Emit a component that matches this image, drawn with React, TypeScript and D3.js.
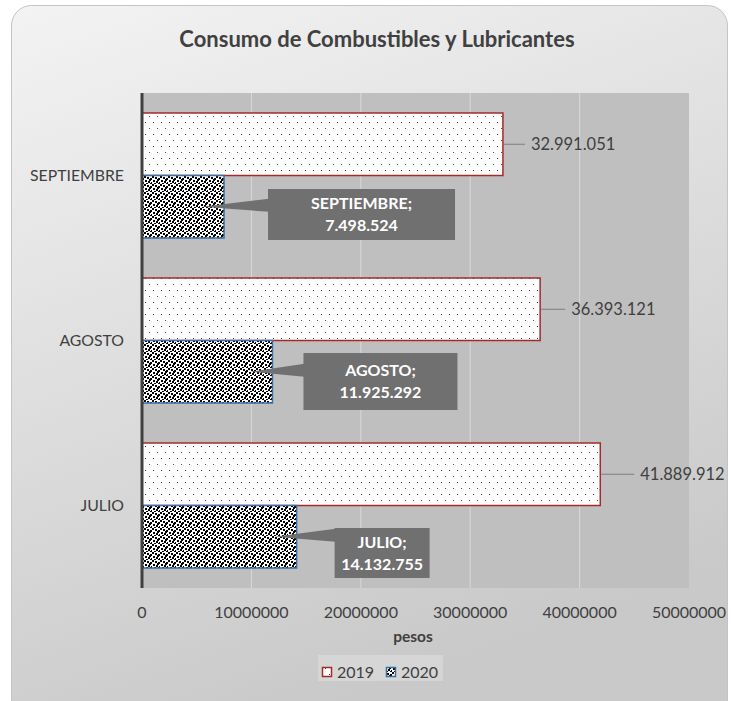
import * as d3 from "d3";

const categories = ["SEPTIEMBRE", "AGOSTO", "JULIO"];
const series = ["2019", "2020"];
const values2019 = [32991051, 36393121, 41889912];
const values2020 = [7498524, 11925292, 14132755];
const xTicks = [0, 10000000, 20000000, 30000000, 40000000, 50000000];

// label layout (hand placed in the original, like Excel does)
const leaderOffsets = [28, 31, 40];
const calloutBoxes = [
  { dx: 44, w: 187, top: 189, h: 51 },
  { dx: 31, w: 154, top: 353, h: 57 },
  { dx: 38, w: 95, top: 528, h: 50 },
];

const W = 731;
const H = 701;
const plot = { left: 142, right: 689, top: 93, bottom: 588 };
const FONT = "Lato, 'Open Sans', sans-serif";
const TEXT = "#404040";

const fmt = (v: number) => d3.format(",")(v).replace(/,/g, ".");

export default function App() {
  const x = d3.scaleLinear().domain([0, 50000000]).range([plot.left, plot.right]);
  const y0 = d3.scaleBand<string>().domain(categories).range([plot.top, plot.bottom]);
  const y1 = d3
    .scaleBand<string>()
    .domain(series)
    .range([0, y0.bandwidth()])
    .paddingInner(0)
    .paddingOuter(0.32);

  // 2020 confetti squares within an 8x8 tile
  const confetti = [
    [0, 0], [3, 1], [6, 2], [1, 4], [4, 5], [7, 6], [5, 3], [2, 7], [6, 7],
  ];

  return (
    <svg
      width={W}
      height={H}
      style={{ position: "absolute", left: 0, top: 0 }}
      fontFamily={FONT}
    >
      <defs>
        <linearGradient id="bg" x1="0" y1="0" x2="0.35" y2="1">
          <stop offset="0" stopColor="#f3f3f3" />
          <stop offset="1" stopColor="#c9c9c9" />
        </linearGradient>
        <pattern id="p2019" width="8" height="12" patternUnits="userSpaceOnUse">
          <rect width="8" height="12" fill="#fff" />
          <rect x="1" y="2" width="1" height="1" fill="#333" />
          <rect x="5" y="8" width="1" height="1" fill="#555" />
        </pattern>
        <pattern id="p2020" width="8" height="8" patternUnits="userSpaceOnUse">
          <rect width="8" height="8" fill="#fff" />
          {confetti.map(([cx, cy], i) => (
            <rect key={i} x={cx} y={cy} width="2" height="2" fill="#000" />
          ))}
        </pattern>
      </defs>

      <rect x={11.5} y={5.5} width={716} height={720} rx={20} fill="url(#bg)" stroke="#c4c4c4" />

      <text x={377} y={39} dy="0.35em" textAnchor="middle" fontSize={22} fontWeight="bold" fill={TEXT}>
        Consumo de Combustibles y Lubricantes
      </text>

      <rect
        x={plot.left}
        y={plot.top}
        width={plot.right - plot.left}
        height={plot.bottom - plot.top}
        fill="#bfbfbf"
      />

      {xTicks.slice(1, -1).map((t) => (
        <line key={t} x1={x(t)} x2={x(t)} y1={plot.top} y2={plot.bottom} stroke="#d9d9d9" />
      ))}

      {categories.map((c, i) => {
        const yb = y0(c)!;
        const by1 = yb + y1("2019")!;
        const by2 = yb + y1("2020")!;
        const bh = y1.bandwidth();
        const end1 = x(values2019[i]);
        const end2 = x(values2020[i]);
        const cy1 = by1 + bh / 2;
        const cy2 = by2 + bh / 2;
        const box = calloutBoxes[i];
        const bx = end2 + box.dx;
        const tipX = end2 - 22;
        const wedge = `M${tipX},${cy2} L${bx + 1},${cy2 - 8} L${bx + 1},${cy2 + 5} Z`;
        const lx = end1 + leaderOffsets[i];
        return (
          <g key={c}>
            <rect x={plot.left} y={by1} width={end1 - plot.left} height={bh} fill="url(#p2019)" stroke="#a52a2a" strokeWidth={1.5} />
            <rect x={plot.left} y={by2} width={end2 - plot.left} height={bh} fill="url(#p2020)" stroke="#3a6ea5" strokeWidth={1.5} />

            <line x1={end1 + 1} x2={lx - 6} y1={cy1} y2={cy1} stroke="#7f7f7f" strokeWidth={1} />
            <text x={lx} y={cy1} dy="0.35em" fontSize={16.5} fill={TEXT}>
              {fmt(values2019[i])}
            </text>

            <path d={wedge} fill="#707070" />
            <rect x={bx} y={box.top} width={box.w} height={box.h} fill="#707070" />
            <text x={bx + box.w / 2} y={box.top + box.h / 2 - 11} dy="0.35em" textAnchor="middle" fontSize={16} fontWeight="bold" fill="#fff">
              {c};
            </text>
            <text x={bx + box.w / 2} y={box.top + box.h / 2 + 11} dy="0.35em" textAnchor="middle" fontSize={16} fontWeight="bold" fill="#fff">
              {fmt(values2020[i])}
            </text>

            <text x={124} y={yb + y0.bandwidth() / 2} dy="0.35em" textAnchor="end" fontSize={15.8} fill={TEXT}>
              {c}
            </text>
          </g>
        );
      })}

      <line x1={plot.left} x2={plot.left} y1={plot.top} y2={plot.bottom} stroke="#404040" strokeWidth={3} />

      {xTicks.map((t) => (
        <text key={t} x={x(t)} y={612} dy="0.35em" textAnchor="middle" fontSize={16} fill={TEXT}>
          {t}
        </text>
      ))}

      <text x={413} y={637} dy="0.35em" textAnchor="middle" fontSize={15.5} fontWeight="bold" fill={TEXT}>
        pesos
      </text>

      <rect x={318} y={655} width={125} height={26} fill="#dedede" opacity={0.6} />
      <rect x={322.5} y={667.5} width={9} height={9} fill="url(#p2019)" stroke="#a52a2a" strokeWidth={1.5} />
      <text x={337} y={672} dy="0.35em" fontSize={16} fill={TEXT}>2019</text>
      <rect x={386.5} y={667.5} width={9} height={9} fill="url(#p2020)" stroke="#3a6ea5" strokeWidth={1.5} />
      <text x={401} y={672} dy="0.35em" fontSize={16} fill={TEXT}>2020</text>
    </svg>
  );
}
